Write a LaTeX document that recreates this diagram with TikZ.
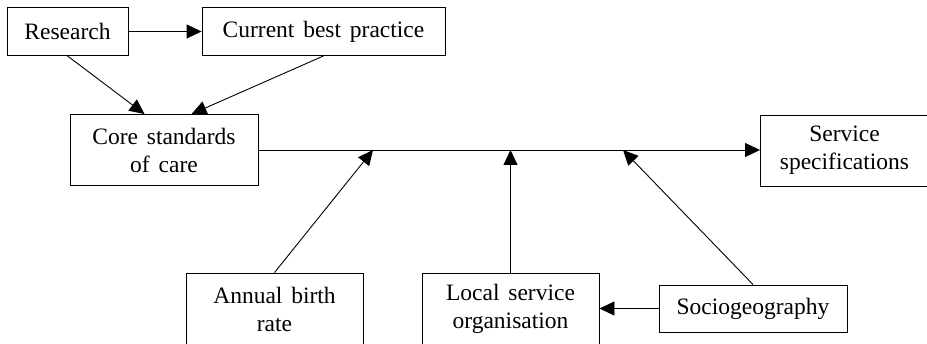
\documentclass[tikz,border=0pt]{standalone}
\usepackage{fontspec}
\setmainfont{Liberation Serif}[WordSpace=1.5]
\usetikzlibrary{arrows.meta,calc}
\begin{document}
\begin{tikzpicture}[x=1pt,y=-1pt,
  box/.style={draw,line width=0.9pt,inner sep=0pt,align=center,
    font=\fontsize{23.5}{28}\selectfont},
  conn/.style={line width=0.9pt,-{Triangle[length=15pt,width=14pt]}},
  plain/.style={line width=0.9pt}]
\useasboundingbox (0,0) rectangle (927,344);
\clip (0,0) rectangle (927,344);
\node[box,minimum width=121pt,minimum height=48pt] (res) at (67.5,31.5) {Research};
\node[box,minimum width=243pt,minimum height=48pt] (cbp) at (323.5,31.5) {Current best practice};
\node[box,minimum width=188pt,minimum height=71pt] (core) at (164,150) {Core standards\\of care};
\node[box,minimum width=168pt,minimum height=71pt] (serv) at (844.5,150.5) {Service\\specifications};
\node[box,minimum width=177pt,minimum height=72pt] (ann) at (274.5,309) {Annual birth\\rate};
\node[box,minimum width=177pt,minimum height=72pt] (loc) at (510.5,309) {Local service\\organisation};
\node[box,minimum width=188pt,minimum height=47pt] (soc) at (753,308.5) {Sociogeography};
\coordinate (p1) at (373,150);
\coordinate (p2) at (510.5,150);
\coordinate (p3) at (623,150);
\draw[conn] (res.east) -- (cbp.west);
\draw[conn] (res.south) -- ($(core.north west)+(75,0)$);
\draw[conn] (cbp.south) -- ($(core.north west)+(122,0)$);
\draw[conn] (core.east) -- (serv.west |- core.east);
\draw[conn] (ann.north) -- (p1);
\draw[conn] (loc.north) -- (p2);
\draw[conn] (soc.north) -- (p3);
\draw[conn] (soc.west) -- (loc.east |- soc.west);
\end{tikzpicture}
\end{document}
